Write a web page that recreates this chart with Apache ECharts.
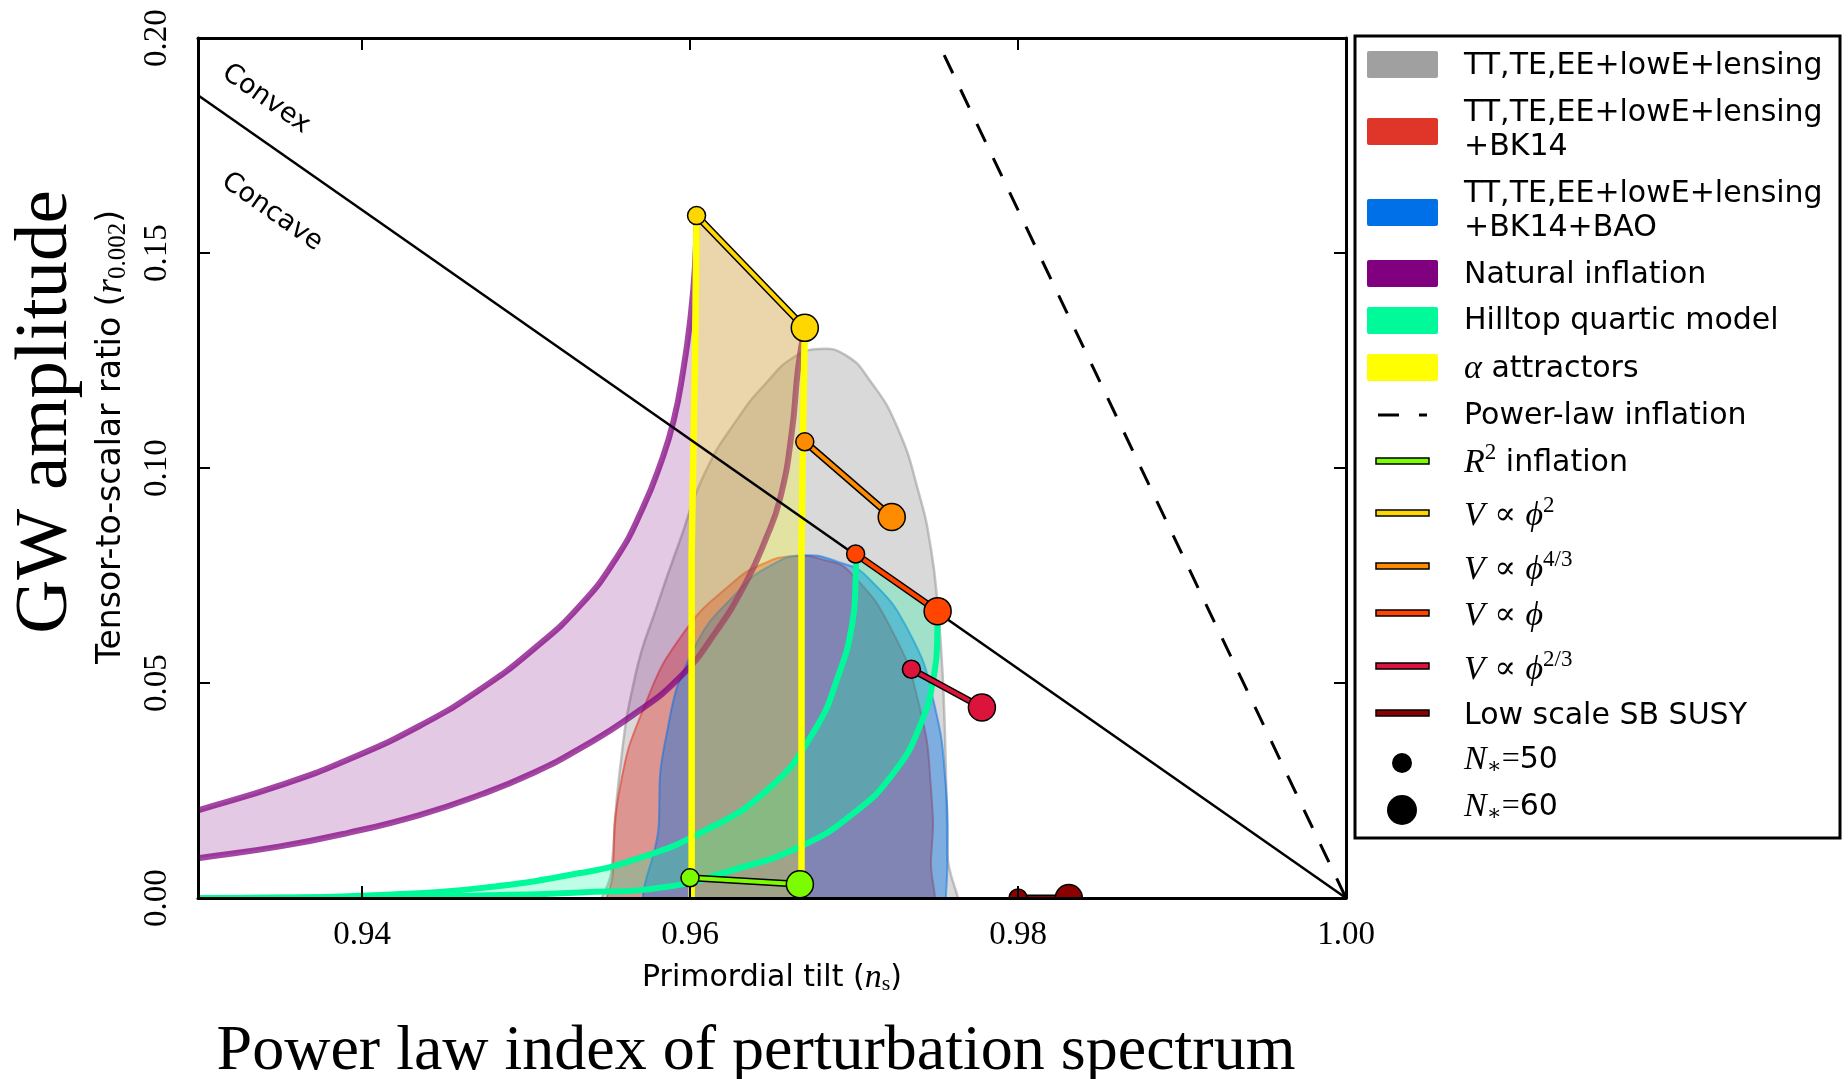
<!DOCTYPE html>
<html>
<head>
<meta charset="utf-8">
<script src="https://cdn.jsdelivr.net/npm/echarts@6/dist/echarts.min.js"></script>
<style>
html,body{margin:0;padding:0;background:#fff;}
#chart{width:1848px;height:1079px;}
</style>
</head>
<body>
<div id="chart"></div>
<script>
// ---------- tick values ----------
const nsTicks = [0.94, 0.96, 0.98, 1.00];
const rTicks = [0.00, 0.05, 0.10, 0.15, 0.20];

// ---------- Planck contours (ns, r) ----------
const grayContour = [[0.9548,-0.004],[0.9552,0.006],[0.9557,0.029],[0.9567,0.0523],[0.9580,0.0680],[0.9594,0.0833],[0.9609,0.0988],[0.9630,0.1120],[0.9647,0.1200],[0.9663,0.1257],[0.9679,0.1277],[0.9695,0.1262],[0.9709,0.1207],[0.9726,0.1098],[0.9740,0.0935],[0.9747,0.0810],[0.9751,0.0680],[0.9754,0.0523],[0.9756,0.0300],[0.9757,0.0100],[0.9757,-0.004]];
const redContour = [[0.9553,-0.004],[0.9553,0.0058],[0.9557,0.0251],[0.9572,0.0444],[0.9596,0.0616],[0.9626,0.0733],[0.9645,0.0778],[0.9663,0.0795],[0.9682,0.0786],[0.9698,0.0756],[0.9724,0.0616],[0.9740,0.0444],[0.9747,0.0251],[0.9747,0.0095],[0.9741,-0.004]];
const blueContour = [[0.9581,-0.004],[0.9581,0.0174],[0.9585,0.0367],[0.9602,0.0577],[0.9630,0.0716],[0.9650,0.0775],[0.9669,0.0797],[0.9690,0.0782],[0.9708,0.0747],[0.9734,0.0616],[0.9749,0.0450],[0.9756,0.0260],[0.9757,0.0100],[0.9756,0.0000],[0.9755,-0.004]];

// ---------- Natural inflation (N*=50 upper, N*=60 lower) ----------
const naturalN50 = [[0.9290,0.0193],[0.9301,0.0205],[0.9350,0.0262],[0.9391,0.0321],[0.9435,0.0400],[0.9472,0.0485],[0.9505,0.0580],[0.9533,0.0680],[0.9555,0.0790],[0.9571,0.0905],[0.9582,0.1010],[0.9590,0.1110],[0.9596,0.1230],[0.9600,0.1340],[0.9603,0.1467],[0.9604,0.1587]];
const naturalN60 = [[0.9290,0.0087],[0.9301,0.0093],[0.9350,0.0120],[0.9391,0.0151],[0.9435,0.0193],[0.9472,0.0240],[0.9505,0.0292],[0.9533,0.0348],[0.9565,0.0425],[0.9594,0.0514],[0.9616,0.0620],[0.9634,0.0733],[0.9646,0.0833],[0.9655,0.0930],[0.9662,0.1081],[0.9666,0.1235],[0.9670,0.1326]];

// ---------- Hilltop quartic ----------
const hilltopN50 = [[0.9280,0],[0.9350,0.0001],[0.9411,0.0007],[0.9472,0.0023],[0.9533,0.0058],[0.9565,0.0088],[0.9606,0.0151],[0.9647,0.0251],[0.9675,0.0384],[0.9691,0.0523],[0.9699,0.0640],[0.9701,0.0740],[0.9701,0.0800]];
const hilltopN60 = [[0.9280,0],[0.9400,0.0001],[0.9472,0.0006],[0.9533,0.0013],[0.9586,0.0026],[0.9626,0.0065],[0.9667,0.0119],[0.9700,0.0198],[0.9724,0.0290],[0.9740,0.0398],[0.9749,0.0523],[0.9751,0.0635],[0.9751,0.0668]];

// ---------- alpha attractors ----------
const alphaN50 = [[0.9601,-0.004],[0.9601,0.0800],[0.9603,0.1250],[0.9604,0.1587]];
const alphaN60 = [[0.9668,-0.004],[0.9668,0.0800],[0.9669,0.1100],[0.9670,0.1326]];

// ---------- reference lines ----------
const concaveLine = [[0.93,0.1867],[1.00,0.0]];
const powerLawLine = [[0.9755,0.196],[1.00,0.0]];

// ---------- model predictions [N*=50, N*=60] ----------
const r2Points    = [[0.9600,0.0047],[0.9667,0.0032]];
const phi2Points  = [[0.9604,0.1587],[0.9670,0.1326]];
const phi43Points = [[0.9670,0.1061],[0.9723,0.0886]];
const phi1Points  = [[0.9701,0.0800],[0.9751,0.0667]];
const phi23Points = [[0.9735,0.0532],[0.9778,0.0443]];
const susyPoints  = [[0.9800,0.0],[0.9831,0.0]];

// ---------- legend labels ----------
const legendPatchLabels = [
  ['TT,TE,EE+lowE+lensing'],
  ['TT,TE,EE+lowE+lensing','+BK14'],
  ['TT,TE,EE+lowE+lensing','+BK14+BAO'],
  ['Natural inflation'],
  ['Hilltop quartic model'],
  ['{m|α} attractors']
];
const legendLineLabels = [
  '{m|R}{sp|2} inflation',
  '{m|V} {r|∝} {m|ϕ}{sp|2}',
  '{m|V} {r|∝} {m|ϕ}{sp|4/3}',
  '{m|V} {r|∝} {m|ϕ}',
  '{m|V} {r|∝} {m|ϕ}{sp|2/3}',
  'Low scale SB SUSY'
];
const legendDotLabels = ['{m|N}{sb|∗}{r|=}50', '{m|N}{sb|∗}{r|=}60'];

// ---------- styling ----------
const SANS = '"DejaVu Sans", sans-serif';
const SERIF = '"Liberation Serif", "DejaVu Serif", serif';
const C = {
  gray:'#a0a0a0', red:'#e0362a', blue:'#0070e8', purple:'#800080', hill:'#00fa9a', yellow:'#ffff00',
  r2:'#7cfc00', phi2:'#ffd700', phi43:'#ff8c00', phi1:'#ff4500', phi23:'#dc143c', susy:'#8b0000'
};
const SM = 0.5;

function polygonSeries(name, pts, fill, stroke, lw, z, smooth) {
  return {
    type:'custom', name, coordinateSystem:'cartesian2d', clip:true, silent:true, z,
    data: pts, encode:{x:0, y:1},
    renderItem(params, api) {
      if (params.dataIndex !== 0) return null;
      const P = pts.map(p => api.coord(p));
      return {type:'polygon', shape:{points:P, smooth:smooth||0},
              style:{fill, stroke: stroke || null, lineWidth: lw || 0}};
    }
  };
}
// band between two curves; the four corner points are doubled so the smoothing keeps them sharp
function bandSeries(name, a, b, fill, z, smooth) {
  return {
    type:'custom', name, coordinateSystem:'cartesian2d', clip:true, silent:true, z,
    data: a, encode:{x:0, y:1},
    renderItem(params, api) {
      if (params.dataIndex !== 0) return null;
      const A = a.map(p => api.coord(p));
      const B = b.slice().reverse().map(p => api.coord(p));
      const P = [A[0]].concat(A, [A[A.length-1]], [B[0]], B, [B[B.length-1]]);
      return {type:'polygon', shape:{points:P, smooth:smooth||0}, style:{fill, stroke:null}};
    }
  };
}
function curveSeries(name, pts, color, width, z, dash, smooth) {
  return {
    type:'custom', name, coordinateSystem:'cartesian2d', clip:true, silent:true, z,
    data: pts, encode:{x:0, y:1},
    renderItem(params, api) {
      if (params.dataIndex !== 0) return null;
      const P = pts.map(p => api.coord(p));
      return {type:'polyline', shape:{points:P, smooth:smooth||0},
              style:{fill:null, stroke:color, lineWidth:width, lineDash: dash || null, lineCap:'butt', lineJoin:'round'}};
    }
  };
}
function modelSeries(name, pts, color, z) {
  return {
    type:'custom', name, coordinateSystem:'cartesian2d', clip:true, silent:true, z,
    data: pts, encode:{x:0, y:1},
    renderItem(params, api) {
      if (params.dataIndex !== 0) return null;
      const P = pts.map(p => api.coord(p));
      return {type:'group', children:[
        {type:'polyline', shape:{points:P}, style:{fill:null, stroke:'#000', lineWidth:7}},
        {type:'polyline', shape:{points:P}, style:{fill:null, stroke:color, lineWidth:4}},
        {type:'circle', shape:{cx:P[0][0], cy:P[0][1], r:9}, style:{fill:color, stroke:'#000', lineWidth:1.5}},
        {type:'circle', shape:{cx:P[1][0], cy:P[1][1], r:13.5}, style:{fill:color, stroke:'#000', lineWidth:1.5}}
      ]};
    }
  };
}

const series = [
  polygonSeries('TT,TE,EE+lowE+lensing', grayContour, 'rgba(160,160,160,0.4)', 'rgba(150,150,150,0.55)', 2.5, 1, SM),
  polygonSeries('+BK14', redContour, 'rgba(224,54,42,0.42)', 'rgba(224,54,42,0.55)', 2, 2, SM),
  polygonSeries('+BK14+BAO', blueContour, 'rgba(0,112,232,0.42)', 'rgba(0,112,232,0.5)', 2, 3, SM),
  bandSeries('Natural inflation band', naturalN50, naturalN60, 'rgba(128,0,128,0.21)', 4, SM),
  curveSeries('Natural N50', naturalN50, 'rgba(128,0,128,0.72)', 6, 5, null, SM),
  curveSeries('Natural N60', naturalN60, 'rgba(128,0,128,0.72)', 6, 5, null, SM),
  bandSeries('Hilltop band', hilltopN50, hilltopN60, 'rgba(0,250,154,0.25)', 6, SM),
  bandSeries('alpha band', alphaN50, alphaN60, 'rgba(255,255,0,0.25)', 7, 0),
  curveSeries('Hilltop N50', hilltopN50, C.hill, 6, 8, null, SM),
  curveSeries('Hilltop N60', hilltopN60, C.hill, 6, 8, null, SM),
  curveSeries('alpha N50', alphaN50, C.yellow, 6.5, 9, null, 0),
  curveSeries('alpha N60', alphaN60, C.yellow, 6.5, 9, null, 0),
  curveSeries('Convex/Concave', concaveLine, '#000', 2.5, 10, null, 0),
  curveSeries('Power-law inflation', powerLawLine, '#000', 3, 10, [20,18], 0),
  modelSeries('R2', r2Points, C.r2, 11),
  modelSeries('phi2', phi2Points, C.phi2, 11),
  modelSeries('phi43', phi43Points, C.phi43, 11),
  modelSeries('phi1', phi1Points, C.phi1, 11),
  modelSeries('phi23', phi23Points, C.phi23, 11),
  modelSeries('SUSY', susyPoints, C.susy, 11)
];

const axisLine = {show:true, onZero:false, lineStyle:{color:'#000', width:3}};
const tickStyle = {color:'#000', width:2};
const fmt = v => Number(v).toFixed(2);

const xAxis = [
  {type:'value', min:0.93, max:1.00, position:'bottom', z:30,
   axisLine, splitLine:{show:false},
   axisTick:{show:true, inside:true, length:12, lineStyle:tickStyle, customValues:nsTicks},
   axisLabel:{show:true, customValues:nsTicks, formatter:fmt, fontFamily:SERIF, fontSize:33, color:'#000', margin:21}},
  {type:'value', min:0.93, max:1.00, position:'top', z:30,
   axisLine, splitLine:{show:false},
   axisTick:{show:true, inside:true, length:12, lineStyle:tickStyle, customValues:nsTicks},
   axisLabel:{show:false}}
];
const yAxis = [
  {type:'value', min:0, max:0.2, interval:0.05, position:'left', z:30,
   axisLine, splitLine:{show:false},
   axisTick:{show:true, inside:true, length:12, lineStyle:tickStyle},
   axisLabel:{show:true, formatter:fmt, rotate:90, fontFamily:SERIF, fontSize:33, color:'#000', margin:24}},
  {type:'value', min:0, max:0.2, interval:0.05, position:'right', z:30,
   axisLine, splitLine:{show:false},
   axisTick:{show:true, inside:true, length:12, lineStyle:tickStyle},
   axisLabel:{show:false}}
];

// ---------- legend (graphic) ----------
const richStyles = {
  m:{fontFamily:SERIF, fontStyle:'italic', fontSize:34, color:'#000'},
  r:{fontFamily:SERIF, fontSize:32, color:'#000'},
  sp:{fontFamily:SERIF, fontSize:23, color:'#000', padding:[0,0,20,0]},
  sb:{fontFamily:SERIF, fontSize:22, color:'#000', padding:[14,0,0,0]}
};
const LX = 1355, LY = 36, LW = 485, LH = 802, TX = 1464, DY = 2;
const legendEls = [];
legendEls.push({type:'rect', shape:{x:LX, y:LY, width:LW, height:LH}, style:{fill:'#fff', stroke:'#000', lineWidth:3}, z:100});
const patchColors = [C.gray, C.red, C.blue, C.purple, C.hill, C.yellow];
const patchY = [49, 116, 197, 258, 305, 352];
const patchTextY = [[63],[110,144],[191,225],[272],[318],[366]];
patchColors.forEach((col, i) => {
  legendEls.push({type:'rect', shape:{x:1367, y:patchY[i]+DY, width:71, height:27, r:2}, style:{fill:col}, z:101});
  legendPatchLabels[i].forEach((t, j) => {
    legendEls.push({type:'text', x:TX, y:patchTextY[i][j]+DY+1, z:101,
      style:{text:t, fontFamily:SANS, fontSize:30, fill:'#000', verticalAlign:'middle', align:'left', rich:richStyles}});
  });
});
// power-law dashes
legendEls.push({type:'line', shape:{x1:1378, y1:413+DY, x2:1399, y2:413+DY}, style:{stroke:'#000', lineWidth:3}, z:101});
legendEls.push({type:'line', shape:{x1:1419, y1:413+DY, x2:1427, y2:413+DY}, style:{stroke:'#000', lineWidth:3}, z:101});
legendEls.push({type:'text', x:TX, y:413+DY+1, z:101, style:{text:'Power-law inflation', fontFamily:SANS, fontSize:30, fill:'#000', verticalAlign:'middle'}});
const lineColors = [C.r2, C.phi2, C.phi43, C.phi1, C.phi23, C.susy];
const lineY = [459, 511, 564, 611, 664, 711];
const lineTextY = [461, 514, 568, 614, 668, 714];
lineColors.forEach((col, i) => {
  legendEls.push({type:'rect', shape:{x:1376, y:lineY[i]-3+DY, width:53, height:6}, style:{fill:col, stroke:'#000', lineWidth:1.5}, z:101});
  legendEls.push({type:'text', x:TX, y:lineTextY[i]+DY, z:101,
    style:{text:legendLineLabels[i], fontFamily:SANS, fontSize:30, fill:'#000', verticalAlign:'middle', rich:richStyles}});
});
[[761,10],[808,15]].forEach((d, i) => {
  legendEls.push({type:'circle', shape:{cx:1402, cy:d[0]+DY, r:d[1]}, style:{fill:'#000'}, z:101});
  legendEls.push({type:'text', x:TX, y:d[0]-3+DY, z:101,
    style:{text:legendDotLabels[i], fontFamily:SANS, fontSize:30, fill:'#000', verticalAlign:'middle', rich:richStyles}});
});

// ---------- titles & annotations ----------
const titleEls = [
  {type:'text', x:46, y:412, rotation:Math.PI/2, z:50,
   style:{text:'GW amplitude', fontFamily:SERIF, fontSize:75, fill:'#000', align:'center', verticalAlign:'middle'}},
  {type:'text', x:111, y:437, rotation:Math.PI/2, z:50,
   style:{text:'Tensor-to-scalar ratio ({m|r}{sb|0.002})', fontFamily:SANS, fontSize:33, fill:'#000', align:'center', verticalAlign:'middle',
     rich:{m:{fontFamily:SERIF, fontStyle:'italic', fontSize:37}, sb:{fontFamily:SERIF, fontSize:25, padding:[14,0,0,0]}}}},
  {type:'text', x:772, y:978, z:50,
   style:{text:'Primordial tilt ({m|n}{sb|s})', fontFamily:SANS, fontSize:30, fill:'#000', align:'center', verticalAlign:'middle',
     rich:{m:{fontFamily:SERIF, fontStyle:'italic', fontSize:34}, sb:{fontFamily:SERIF, fontSize:22, padding:[13,0,0,0]}}}},
  {type:'text', x:756, y:1052, z:50,
   style:{text:'Power law index of perturbation spectrum', fontFamily:SERIF, fontSize:64, fill:'#000', align:'center', verticalAlign:'middle'}},
  {type:'text', x:266, y:99, rotation:-0.61, z:50,
   style:{text:'Convex', fontFamily:SANS, fontSize:27, fill:'#000', align:'center', verticalAlign:'middle'}},
  {type:'text', x:272, y:212, rotation:-0.61, z:50,
   style:{text:'Concave', fontFamily:SANS, fontSize:27, fill:'#000', align:'center', verticalAlign:'middle'}}
];

const chart = echarts.init(document.getElementById('chart'), null, {renderer:'canvas'});
chart.setOption({
  animation:false,
  backgroundColor:'#fff',
  grid:{left:198, right:502, top:38, bottom:181, containLabel:false},
  xAxis, yAxis,
  series,
  graphic: titleEls.concat(legendEls)
});
</script>
</body>
</html>
